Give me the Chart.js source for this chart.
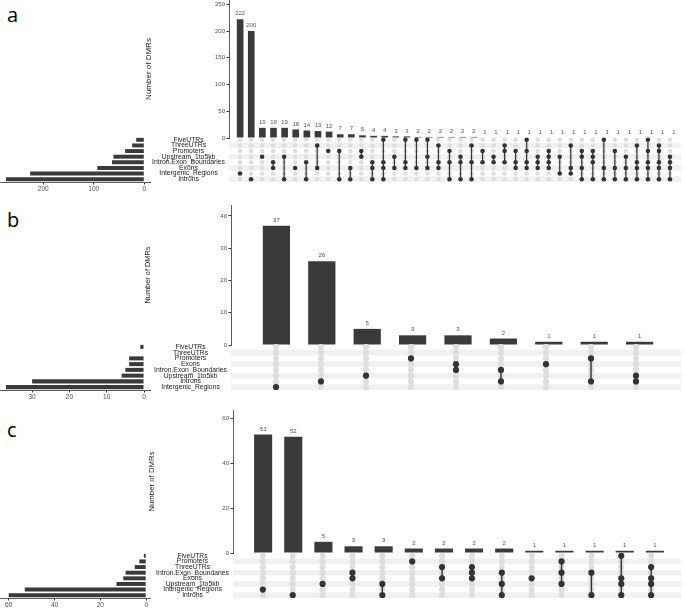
<!DOCTYPE html>
<html>
<head>
<meta charset="utf-8">
<script src="https://cdn.jsdelivr.net/npm/chart.js@4.4.1/dist/chart.umd.min.js"></script>
<style>
  body { margin: 0; background: #fff; width: 685px; height: 608px; position: relative; overflow: hidden; }
  canvas { position: absolute; }
  .tag { position: absolute; left: 7px; font: 20px "Open Sans", sans-serif; line-height: 1; color: #000; }
</style>
</head>
<body>
<div class="tag" style="top:5px">a</div>
<div class="tag" style="top:210px">b</div>
<div class="tag" style="top:420px">c</div>
<script>
// ---- panel a ----
const setsA = ["FiveUTRs", "ThreeUTRs", "Promoters", "Upstream_1to5kb", "Intron.Exon_Boundaries", "Exons", "Intergenic_Regions", "Introns"];
const setSizesA = [16, 24, 38, 61, 64, 93, 226, 274];
const countsA = [222, 200, 19, 19, 19, 16, 14, 13, 12, 7, 7, 5, 4, 4, 3, 3, 2, 2, 2, 2, 2, 2,
  1, 1, 1, 1, 1, 1, 1, 1, 1, 1, 1, 1, 1, 1, 1, 1, 1, 1];
// row indexes (into setsA) of the dots in each column
const membersA = [[6], [7], [3], [4, 5], [3, 7], [5], [4, 7], [1, 5], [2], [2, 7], [5, 7], [2, 3],
  [4, 5, 7], [0, 4, 5, 7], [3, 5], [0, 4, 5], [0, 5], [0, 3, 5], [1, 4, 5], [2, 4, 7], [3, 4, 7], [1, 4, 7],
  [2, 4], [3, 4], [1, 2, 4], [2, 4, 5], [0, 2, 4, 5], [3, 4, 5], [2, 3, 4, 5], [3, 6], [1, 5, 6],
  [2, 3, 5, 7], [2, 3, 4, 7], [0, 5, 7], [2, 5, 7], [3, 5, 7], [1, 4, 5, 7], [0, 2, 4, 5, 7], [1, 2, 4, 5, 7], [3, 4, 5, 7]];
const barTicksA = [0, 50, 100, 150, 200, 250];
const sizeTicksA = [0, 100, 200];

// ---- panel b ----
const setsB = ["FiveUTRs", "ThreeUTRs", "Promoters", "Exons", "Intron.Exon_Boundaries", "Upstream_1to5kb", "Introns", "Intergenic_Regions"];
const setSizesB = [1, 0, 4, 4, 5, 6, 30, 37];
const countsB = [37, 26, 5, 3, 3, 2, 1, 1, 1];
const membersB = [[7], [6], [5], [2], [3, 4], [4, 6], [3], [2, 6], [5, 6]];
const barTicksB = [0, 10, 20, 30, 40];
const sizeTicksB = [0, 10, 20, 30];

// ---- panel c ----
const setsC = ["FiveUTRs", "Promoters", "ThreeUTRs", "Intron.Exon_Boundaries", "Exons", "Upstream_1to5kb", "Intergenic_Regions", "Introns"];
const setSizesC = [1, 3, 5, 9, 10, 13, 53, 60];
const countsC = [53, 52, 5, 3, 3, 2, 2, 2, 2, 1, 1, 1, 1, 1];
const membersC = [[6], [7], [5], [3, 4], [5, 7], [1], [2, 4], [2, 3, 4], [3, 5, 7], [4], [1, 3, 5], [3, 7], [0, 4, 5, 7], [2, 4, 5, 7]];
const barTicksC = [0, 20, 40, 60];
const sizeTicksC = [0, 20, 40, 60];

Chart.defaults.font.family = '"Liberation Sans", Arial, sans-serif';
Chart.defaults.animation = false;

const DARK = "#3a3a3a";
const PAD = 10;

const panels = [
  { sets: setsA, sizes: setSizesA, counts: countsA, members: membersA, barTicks: barTicksA, sizeTicks: sizeTicksA,
    lay: { titleLeft: 144, axisX: 229, rightX: 685, barTop: 0, zeroY: 138, yMax: 258, matTop: 137, matBottom: 182,
           setRight: 150, setMin: -11.3, setMax: 285.7, dot: 2.3, link: 1.2, titleSize: 8 } },
  { sets: setsB, sizes: setSizesB, counts: countsB, members: membersB, barTicks: barTicksB, sizeTicks: sizeTicksB,
    lay: { titleLeft: 144, axisX: 231, rightX: 685, barTop: 205, zeroY: 345, yMax: 43.4, matTop: 344, matBottom: 390,
           setRight: 150, setMin: -1.6, setMax: 38.6, dot: 3.1, link: 1.4, titleSize: 7.4 } },
  { sets: setsC, sizes: setSizesC, counts: countsC, members: membersC, barTicks: barTicksC, sizeTicks: sizeTicksC,
    lay: { titleLeft: 147, axisX: 233, rightX: 685, barTop: 410, zeroY: 553, yMax: 63.9, matTop: 553, matBottom: 598,
           setRight: 150, setMin: -1.66, setMax: 63.8, dot: 3.1, link: 1.4, titleSize: 7.8 } }
];

function addCanvas(x, y, w, h) {
  const c = document.createElement("canvas");
  c.width = w;
  c.height = h;
  c.style.left = x + "px";
  c.style.top = y + "px";
  document.body.appendChild(c);
  return c;
}

// numbers on top of the intersection bars
const countLabels = {
  id: "countLabels",
  afterDatasetsDraw(chart) {
    const { ctx } = chart;
    const ds = chart.data.datasets[0];
    ctx.save();
    ctx.font = '6px "Liberation Sans", Arial, sans-serif';
    ctx.fillStyle = "#555";
    ctx.textAlign = "center";
    ctx.textBaseline = "bottom";
    chart.getDatasetMeta(0).data.forEach((bar, i) => {
      ctx.fillText(String(ds.data[i].y), bar.x, bar.y - 2.5);
    });
    ctx.restore();
  }
};

// shaded bands behind every second matrix row
const stripes = {
  id: "stripes",
  beforeDatasetsDraw(chart, args, opts) {
    const { ctx, chartArea: a, scales: { y } } = chart;
    ctx.save();
    ctx.fillStyle = "#f1f1f1";
    for (let r = 1; r < opts.rows; r += 2) {
      const y0 = y.getPixelForValue(r - 0.5);
      const y1 = y.getPixelForValue(r + 0.5);
      ctx.fillRect(a.left, Math.min(y0, y1), a.right - a.left, Math.abs(y1 - y0));
    }
    ctx.restore();
  }
};

function barChart(p) {
  const L = p.lay;
  const axisW = L.axisX - L.titleLeft;
  const cv = addCanvas(L.titleLeft, L.barTop - PAD, L.rightX - L.titleLeft, L.zeroY - L.barTop + 2 * PAD);
  new Chart(cv, {
    type: "bar",
    data: {
      datasets: [{
        data: p.counts.map((v, i) => ({ x: i + 1, y: v })),
        backgroundColor: DARK,
        categoryPercentage: 1,
        barPercentage: 0.6
      }]
    },
    options: {
      responsive: false,
      layout: { padding: { top: PAD, bottom: PAD, left: 0, right: 0 } },
      plugins: { legend: { display: false }, tooltip: { enabled: false } },
      scales: {
        x: { type: "linear", offset: false, min: 0, max: p.counts.length + 1, display: false },
        y: {
          min: 0, max: L.yMax,
          afterBuildTicks: s => { s.ticks = p.barTicks.map(v => ({ value: v })); },
          afterFit: s => { s.width = axisW; },
          ticks: { autoSkip: false, font: { size: 6 }, color: "#4d4d4d", padding: 1.5 },
          grid: { display: true, drawOnChartArea: false, tickLength: 2.5, color: "#333" },
          border: { display: true, color: "#333", width: 0.8 },
          title: { display: true, text: "Number of DMRs", font: { size: L.titleSize }, color: "#222", padding: 0 }
        }
      }
    },
    plugins: [countLabels]
  });
}

function matrixChart(p) {
  const L = p.lay;
  const nameW = L.axisX - 110;
  const left = L.axisX - nameW;
  const cv = addCanvas(left, L.matTop - PAD, L.rightX - left, L.matBottom - L.matTop + 2 * PAD);
  const rows = p.sets.length;
  const empty = [], filled = [], datasets = [];
  p.members.forEach((m, i) => {
    const x = i + 1;
    for (let r = 0; r < rows; r++) (m.includes(r) ? filled : empty).push({ x, y: r });
    if (m.length > 1) {
      datasets.push({
        data: [{ x, y: Math.min(...m) }, { x, y: Math.max(...m) }],
        showLine: true, pointRadius: 0, borderColor: "#333", borderWidth: L.link, order: 1
      });
    }
  });
  datasets.push({ data: filled, pointRadius: L.dot, backgroundColor: "#333", borderWidth: 0, order: 0 });
  datasets.push({ data: empty, pointRadius: L.dot, backgroundColor: "#dedede", borderWidth: 0, order: 2 });
  new Chart(cv, {
    type: "scatter",
    data: { datasets },
    options: {
      responsive: false,
      layout: { padding: { top: PAD, bottom: PAD, left: 0, right: 0 } },
      plugins: { legend: { display: false }, tooltip: { enabled: false }, stripes: { rows } },
      scales: {
        x: { type: "linear", min: 0, max: p.members.length + 1, display: false },
        y: {
          type: "linear", min: -0.5, max: rows - 0.5, reverse: true, position: "left",
          afterBuildTicks: s => { s.ticks = p.sets.map((_, r) => ({ value: r })); },
          afterFit: s => { s.width = nameW; },
          ticks: { autoSkip: false, crossAlign: "center", padding: -4, font: { size: 6.8 }, color: "#222",
                   callback: v => p.sets[v] },
          grid: { display: false },
          border: { display: false }
        }
      }
    },
    plugins: [stripes]
  });
}

function sizeChart(p) {
  const L = p.lay;
  const axisH = 16;
  const cv = addCanvas(-4, L.matTop - PAD, L.setRight + 8, L.matBottom - L.matTop + PAD + axisH);
  new Chart(cv, {
    type: "bar",
    data: {
      labels: p.sets,
      datasets: [{ data: p.sizes, backgroundColor: DARK, categoryPercentage: 1, barPercentage: 0.7 }]
    },
    options: {
      indexAxis: "y",
      responsive: false,
      layout: { padding: { top: PAD, bottom: 0, left: 4, right: 4 } },
      plugins: { legend: { display: false }, tooltip: { enabled: false } },
      scales: {
        y: { display: false },
        x: {
          type: "linear", reverse: true, min: L.setMin, max: L.setMax, position: "bottom",
          afterBuildTicks: s => { s.ticks = p.sizeTicks.map(v => ({ value: v })); },
          afterFit: s => { s.height = axisH; },
          ticks: { autoSkip: false, font: { size: 6.5 }, color: "#4d4d4d", padding: 1, maxRotation: 0 },
          grid: { display: true, drawOnChartArea: false, tickLength: 2.5, color: "#333" },
          border: { display: true, color: "#333", width: 0.8 }
        }
      }
    }
  });
}

panels.forEach(p => {
  barChart(p);
  matrixChart(p);
  sizeChart(p);
});
</script>
</body>
</html>
